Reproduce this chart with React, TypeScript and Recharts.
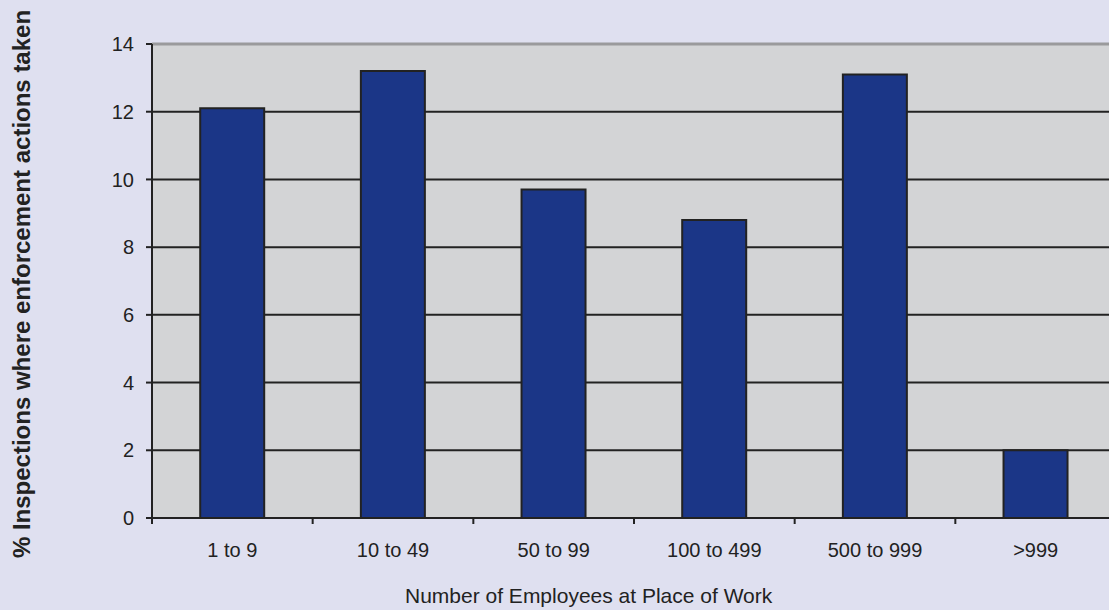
import { BarChart, Bar, XAxis, YAxis, CartesianGrid, ReferenceLine } from 'recharts';

const categories = ['1 to 9', '10 to 49', '50 to 99', '100 to 499', '500 to 999', '>999'];
const enforcementPct = [12.1, 13.2, 9.7, 8.8, 13.1, 2.0];
const yTicks = [0, 2, 4, 6, 8, 10, 12, 14];

const data = categories.map((name, i) => ({ name, value: enforcementPct[i] }));

const FONT = '"Liberation Sans", Arial, sans-serif';
const CHART_W = 1130;
const Y_AXIS_W = 152;
const RIGHT_M = 14;
const BAND = (CHART_W - Y_AXIS_W - RIGHT_M) / categories.length;
const TICK_FONT = 20;

// category label plus tick marks on the category boundaries
function CategoryTick(props: any) {
  const { x, y, payload, index } = props;
  const left = x - BAND / 2;
  const right = x + BAND / 2;
  return (
    <g>
      <line x1={left} x2={left} y1={y} y2={y + 6} stroke="#222" strokeWidth={2} />
      {index === categories.length - 1 && (
        <line x1={right} x2={right} y1={y} y2={y + 6} stroke="#222" strokeWidth={2} />
      )}
      <text x={x} y={y + 25} dy="0.71em" textAnchor="middle" fontSize={TICK_FONT} fill="#222" fontFamily={FONT}>
        {payload.value}
      </text>
    </g>
  );
}

function ValueTick(props: any) {
  const { x, y, payload } = props;
  return (
    <text x={x} y={y} dy="0.355em" textAnchor="end" fontSize={TICK_FONT} fill="#222" fontFamily={FONT}>
      {payload.value}
    </text>
  );
}

export default function App() {
  return (
    <div style={{ position: 'absolute', left: 0, top: 0, width: 1109, height: 610, overflow: 'hidden', background: '#dfe0f0', fontFamily: FONT }}>
      <BarChart
        width={CHART_W}
        height={610}
        data={data}
        margin={{ top: 44, right: RIGHT_M, left: 0, bottom: 0 }}
        barCategoryGap="30%"
      >
        <CartesianGrid fill="#d3d4d6" stroke="#222" strokeWidth={2} vertical={false} />
        <XAxis
          dataKey="name"
          height={92}
          axisLine={{ stroke: '#222', strokeWidth: 2 }}
          tickLine={false}
          tickSize={0}
          tickMargin={0}
          interval={0}
          tick={<CategoryTick />}
        />
        <YAxis
          domain={[0, 14]}
          ticks={yTicks}
          width={Y_AXIS_W}
          axisLine={{ stroke: '#222', strokeWidth: 2 }}
          tickLine={{ stroke: '#222', strokeWidth: 2 }}
          tickSize={6}
          tickMargin={12}
          tick={<ValueTick />}
          label={{
            value: '% Inspections where enforcement actions taken',
            angle: -90,
            position: 'insideLeft',
            dx: 16,
            dy: 3,
            style: { fontSize: 24, fontWeight: 'bold', fill: '#222', fontFamily: FONT, textAnchor: 'middle' },
          }}
        />
        <ReferenceLine y={14} stroke="#9a9a9c" strokeWidth={3} />
        <Bar
          dataKey="value"
          fill="#1b3687"
          stroke="#222"
          strokeWidth={2}
          isAnimationActive={false}
        />
        <text x={405} y={603} textAnchor="start" fontSize={21} fill="#222" fontFamily={FONT}>
          Number of Employees at Place of Work
        </text>
      </BarChart>
    </div>
  );
}
